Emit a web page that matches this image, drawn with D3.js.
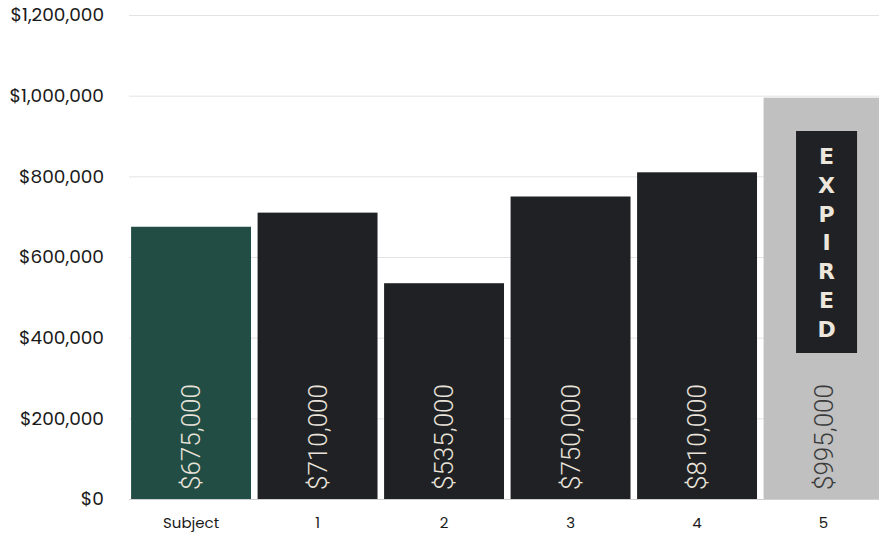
<!DOCTYPE html>
<html><head><meta charset="utf-8">
<script src="https://cdn.jsdelivr.net/npm/d3@7/dist/d3.min.js"></script>
<style>body{margin:0;background:#fff;overflow:hidden}svg{display:block}</style>
</head><body>
<svg id="c" width="879" height="539"></svg>
<script>
const categories = ["Subject", "1", "2", "3", "4", "5"];
const values = [675000, 710000, 535000, 750000, 810000, 995000];
const statuses = ["subject", "comp", "comp", "comp", "comp", "expired"];
const yTicks = [0, 200000, 400000, 600000, 800000, 1000000, 1200000];
const expiredLabel = "EXPIRED";

const svg = d3.select("#c");
const x = d3.scaleBand().domain(categories).range([127.8, 886.8]).paddingInner(0.052).paddingOuter(0.026);
const y = d3.scaleLinear().domain([0, 1200000]).range([499, 15]);
const fmt = d3.format("$,");
const fill = {subject: "#214d45", comp: "#1f2124", expired: "#c0c0c0"};
const labFill = {subject: "#e9e3da", comp: "#e9e3da", expired: "#3b3b3b"};

// grid
svg.append("g").selectAll("line").data(yTicks).join("line")
  .attr("x1", 129).attr("x2", 879)
  .attr("y1", d => y(d) + 0.5).attr("y2", d => y(d) + 0.5)
  .attr("stroke", d => d === 0 ? "#d0d0d0" : "#e3e3e3").attr("stroke-width", 1);

// y labels
const yAxis = d3.axisLeft(y).tickValues(yTicks).tickFormat(fmt).tickSize(0).tickPadding(0);
const ga = svg.append("g").attr("transform", "translate(104,0)").call(yAxis);
ga.select(".domain").remove();
ga.selectAll("text").attr("font-family", "Poppins, Inter, 'Open Sans', sans-serif")
  .attr("font-size", 18.5).attr("fill", "#1a1a1a").attr("dy", "0.32em");

// bars
svg.append("g").selectAll("rect").data(categories).join("rect")
  .attr("x", d => x(d)).attr("width", x.bandwidth())
  .attr("y", (d, i) => y(values[i])).attr("height", (d, i) => y(0) - y(values[i]))
  .attr("fill", (d, i) => fill[statuses[i]]);

// value labels
svg.append("g").selectAll("text").data(categories).join("text")
  .attr("transform", d => `translate(${x(d) + x.bandwidth() / 2 + 9},490) rotate(-90)`)
  .attr("font-family", "Roboto, 'Liberation Sans', sans-serif").attr("font-weight", 300)
  .attr("font-size", 26).attr("fill", (d, i) => labFill[statuses[i]])
  .text((d, i) => fmt(values[i]));

// x labels
const xAxis = d3.axisBottom(x).tickSize(0).tickPadding(0);
const gx = svg.append("g").attr("transform", "translate(0,517)").call(xAxis);
gx.select(".domain").remove();
gx.selectAll("text").attr("font-family", "Poppins, Inter, 'Open Sans', sans-serif")
  .attr("font-size", 15).attr("fill", "#1a1a1a").attr("dy", "0.71em");

// expired badge
categories.forEach((c, i) => {
  if (statuses[i] !== "expired") return;
  const cx = x(c) + x.bandwidth() / 2 + 3;
  const g = svg.append("g");
  g.append("rect").attr("x", cx - 30.5).attr("y", 131).attr("width", 61).attr("height", 222).attr("fill", "#1f2124");
  g.selectAll("text").data(expiredLabel.split("")).join("text")
    .attr("x", cx).attr("y", (d, k) => 164 + k * 28.8)
    .attr("text-anchor", "middle")
    .attr("font-family", "'DejaVu Sans', sans-serif").attr("font-weight", "bold")
    .attr("font-size", 22).attr("fill", "#ece6dc").text(d => d);
});
</script>
</body></html>
